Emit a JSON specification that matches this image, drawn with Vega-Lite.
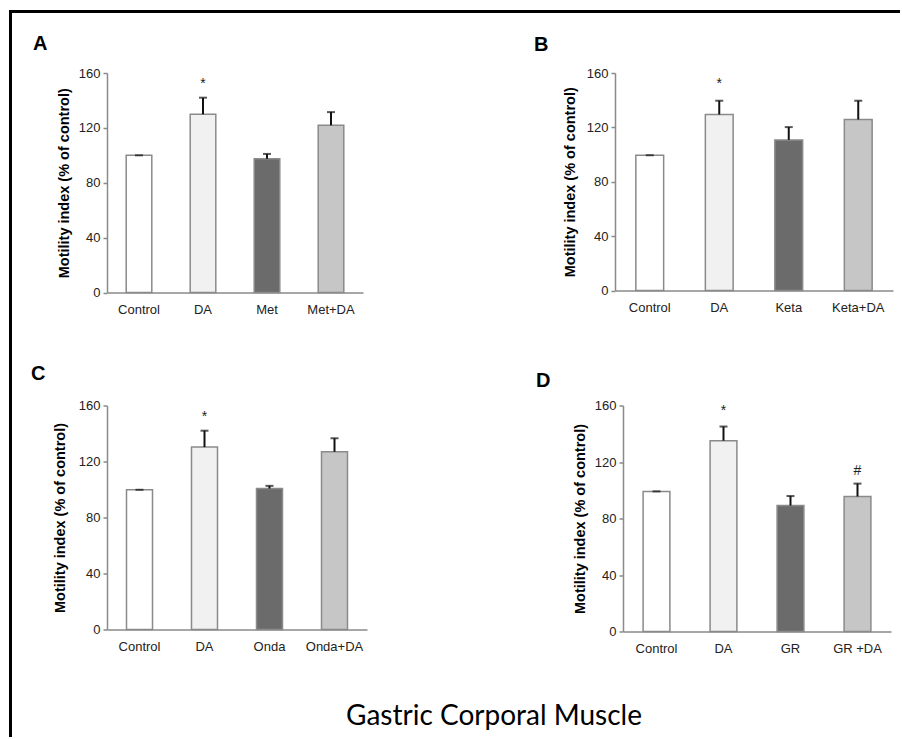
{
  "$schema": "https://vega.github.io/schema/vega-lite/v6.json",
  "padding": {"left": 9, "top": 10, "right": 0, "bottom": 0},
  "config": {
    "view": {"stroke": null},
    "font": "Liberation Sans",
    "axis": {"grid": false, "domainColor": "#8a8a8a", "domainWidth": 1.5, "tickColor": "#8a8a8a", "tickWidth": 1.5, "tickSize": 4, "labelFont": "Liberation Sans", "labelFontSize": 13, "labelColor": "#222222", "titleFont": "Liberation Sans", "titleFontSize": 14.5, "titleFontWeight": "bold", "titleColor": "#000000"},
    "axisX": {"ticks": false, "labelPadding": 11, "labelAngle": 0},
    "axisY": {"labelPadding": 3},
    "title": {"font": "Liberation Sans", "fontSize": 20, "fontWeight": "bold", "color": "#000000", "anchor": "start", "frame": "group"}
  },
  "spacing": 0,
  "vconcat": [
    {"width": 889, "height": 1, "data": {"values": []}, "mark": "point", "view": {"fill": "black", "stroke": "black", "strokeWidth": 2}},
    {
      "spacing": 19,
      "hconcat": [
        {"width": 1, "height": 722, "data": {"values": []}, "mark": "point", "view": {"fill": "black", "stroke": "black", "strokeWidth": 2}},
        {
          "spacing": 0,
          "vconcat": [
            {"width": 1, "height": 19, "data": {"values": []}, "mark": "point", "view": {"fill": "white", "stroke": null}},
            {
              "spacing": 46.5,
              "title": {"text": "Gastric Corporal Muscle", "orient": "bottom", "anchor": "middle", "frame": "bounds", "dx": 32, "offset": 47, "font": "Lato", "fontSize": 28, "fontWeight": "normal", "color": "#000000"},
              "vconcat": [
                {
                  "spacing": 171,
                  "hconcat": [
                    {"vconcat": [{
                      "width": 256, "height": 219.5,
                      "title": {"text": "A", "dx": -74, "offset": 13.5},
                      "data": {"values": [
                        {"g": "Control", "k": "ctrl", "m": 100, "e": 100, "s": null, "sy": null},
                        {"g": "DA", "k": "ago", "m": 130, "e": 142, "s": "*", "sy": 154},
                        {"g": "Met", "k": "ant", "m": 97.5, "e": 101, "s": null, "sy": null},
                        {"g": "Met+DA", "k": "combo", "m": 122, "e": 131.5, "s": null, "sy": null}
                      ]},
                      "encoding": {"x": {"field": "g", "type": "nominal", "sort": null, "title": null, "scale": {"paddingInner": 0.6, "paddingOuter": 0.3}}},
                      "layer": [
                        {"mark": {"type": "bar", "stroke": "#8a8a8a", "strokeWidth": 1.5},
                         "encoding": {"y": {"field": "m", "type": "quantitative", "scale": {"domain": [0, 160], "nice": false}, "axis": {"values": [0, 40, 80, 120, 160], "title": "Motility index (% of control)", "titleX": -43, "titleBaseline": "middle"}},
                                      "fill": {"field": "k", "type": "nominal", "scale": {"domain": ["ctrl", "ago", "ant", "combo"], "range": ["#ffffff", "#f1f1f1", "#6b6b6b", "#c6c6c6"]}, "legend": null}}},
                        {"mark": {"type": "rule", "color": "#111111", "strokeWidth": 2}, "encoding": {"y": {"field": "m", "type": "quantitative"}, "y2": {"field": "e"}}},
                        {"mark": {"type": "tick", "color": "#111111", "thickness": 2, "size": 8}, "encoding": {"y": {"field": "e", "type": "quantitative"}}},
                        {"transform": [{"filter": "datum.s != null"}], "mark": {"type": "text", "fontSize": 14, "color": "#222222", "baseline": "alphabetic", "dy": 7}, "encoding": {"y": {"field": "sy", "type": "quantitative"}, "text": {"field": "s"}}}
                      ]
                    }]},
                    {"vconcat": [{
                      "width": 278, "height": 217.5,
                      "title": {"text": "B", "dx": -81, "offset": 11.8},
                      "data": {"values": [
                        {"g": "Control", "k": "ctrl", "m": 99.5, "e": 99.5, "s": null, "sy": null},
                        {"g": "DA", "k": "ago", "m": 129.5, "e": 139.6, "s": "*", "sy": 154},
                        {"g": "Keta", "k": "ant", "m": 110.8, "e": 120.2, "s": null, "sy": null},
                        {"g": "Keta+DA", "k": "combo", "m": 125.8, "e": 139.6, "s": null, "sy": null}
                      ]},
                      "encoding": {"x": {"field": "g", "type": "nominal", "sort": null, "title": null, "scale": {"paddingInner": 0.6, "paddingOuter": 0.3}}},
                      "layer": [
                        {"mark": {"type": "bar", "stroke": "#8a8a8a", "strokeWidth": 1.5},
                         "encoding": {"y": {"field": "m", "type": "quantitative", "scale": {"domain": [0, 160], "nice": false}, "axis": {"values": [0, 40, 80, 120, 160], "title": "Motility index (% of control)", "titleX": -45, "titleBaseline": "middle"}},
                                      "fill": {"field": "k", "type": "nominal", "scale": {"domain": ["ctrl", "ago", "ant", "combo"], "range": ["#ffffff", "#f1f1f1", "#6b6b6b", "#c6c6c6"]}, "legend": null}}},
                        {"mark": {"type": "rule", "color": "#111111", "strokeWidth": 2}, "encoding": {"y": {"field": "m", "type": "quantitative"}, "y2": {"field": "e"}}},
                        {"mark": {"type": "tick", "color": "#111111", "thickness": 2, "size": 8}, "encoding": {"y": {"field": "e", "type": "quantitative"}}},
                        {"transform": [{"filter": "datum.s != null"}], "mark": {"type": "text", "fontSize": 14, "color": "#222222", "baseline": "alphabetic", "dy": 7}, "encoding": {"y": {"field": "sy", "type": "quantitative"}, "text": {"field": "s"}}}
                      ]
                    }]}
                  ]
                },
                {
                  "spacing": 169,
                  "hconcat": [
                    {"vconcat": [{
                      "width": 260, "height": 224,
                      "title": {"text": "C", "dx": -76, "offset": 16},
                      "data": {"values": [
                        {"g": "Control", "k": "ctrl", "m": 99.8, "e": 99.8, "s": null, "sy": null},
                        {"g": "DA", "k": "ago", "m": 130.3, "e": 142, "s": "*", "sy": 154},
                        {"g": "Onda", "k": "ant", "m": 100.7, "e": 102.6, "s": null, "sy": null},
                        {"g": "Onda+DA", "k": "combo", "m": 127, "e": 136.6, "s": null, "sy": null}
                      ]},
                      "encoding": {"x": {"field": "g", "type": "nominal", "sort": null, "title": null, "scale": {"paddingInner": 0.6, "paddingOuter": 0.3}}},
                      "layer": [
                        {"mark": {"type": "bar", "stroke": "#8a8a8a", "strokeWidth": 1.5},
                         "encoding": {"y": {"field": "m", "type": "quantitative", "scale": {"domain": [0, 160], "nice": false}, "axis": {"values": [0, 40, 80, 120, 160], "title": "Motility index (% of control)", "titleX": -47, "titleBaseline": "middle"}},
                                      "fill": {"field": "k", "type": "nominal", "scale": {"domain": ["ctrl", "ago", "ant", "combo"], "range": ["#ffffff", "#f1f1f1", "#6b6b6b", "#c6c6c6"]}, "legend": null}}},
                        {"mark": {"type": "rule", "color": "#111111", "strokeWidth": 2}, "encoding": {"y": {"field": "m", "type": "quantitative"}, "y2": {"field": "e"}}},
                        {"mark": {"type": "tick", "color": "#111111", "thickness": 2, "size": 8}, "encoding": {"y": {"field": "e", "type": "quantitative"}}},
                        {"transform": [{"filter": "datum.s != null"}], "mark": {"type": "text", "fontSize": 14, "color": "#222222", "baseline": "alphabetic", "dy": 7}, "encoding": {"y": {"field": "sy", "type": "quantitative"}, "text": {"field": "s"}}}
                      ]
                    }]},
                    {"vconcat": [{
                      "width": 268, "height": 226,
                      "title": {"text": "D", "dx": -87, "offset": 9},
                      "data": {"values": [
                        {"g": "Control", "k": "ctrl", "m": 99.2, "e": 99.2, "s": null, "sy": null},
                        {"g": "DA", "k": "ago", "m": 135.1, "e": 145.1, "s": "*", "sy": 158},
                        {"g": "GR", "k": "ant", "m": 89.2, "e": 95.9, "s": null, "sy": null},
                        {"g": "GR +DA", "k": "combo", "m": 95.6, "e": 104.7, "s": "#", "sy": 116}
                      ]},
                      "encoding": {"x": {"field": "g", "type": "nominal", "sort": null, "title": null, "scale": {"paddingInner": 0.6, "paddingOuter": 0.3}}},
                      "layer": [
                        {"mark": {"type": "bar", "stroke": "#8a8a8a", "strokeWidth": 1.5},
                         "encoding": {"y": {"field": "m", "type": "quantitative", "scale": {"domain": [0, 160], "nice": false}, "axis": {"values": [0, 40, 80, 120, 160], "title": "Motility index (% of control)", "titleX": -43, "titleBaseline": "middle"}},
                                      "fill": {"field": "k", "type": "nominal", "scale": {"domain": ["ctrl", "ago", "ant", "combo"], "range": ["#ffffff", "#f1f1f1", "#6b6b6b", "#c6c6c6"]}, "legend": null}}},
                        {"mark": {"type": "rule", "color": "#111111", "strokeWidth": 2}, "encoding": {"y": {"field": "m", "type": "quantitative"}, "y2": {"field": "e"}}},
                        {"mark": {"type": "tick", "color": "#111111", "thickness": 2, "size": 8}, "encoding": {"y": {"field": "e", "type": "quantitative"}}},
                        {"transform": [{"filter": "datum.s != null"}], "mark": {"type": "text", "fontSize": 14, "color": "#222222", "baseline": "alphabetic", "dy": 7}, "encoding": {"y": {"field": "sy", "type": "quantitative"}, "text": {"field": "s"}}}
                      ]
                    }]}
                  ]
                }
              ]
            }
          ]
        }
      ]
    }
  ]
}
